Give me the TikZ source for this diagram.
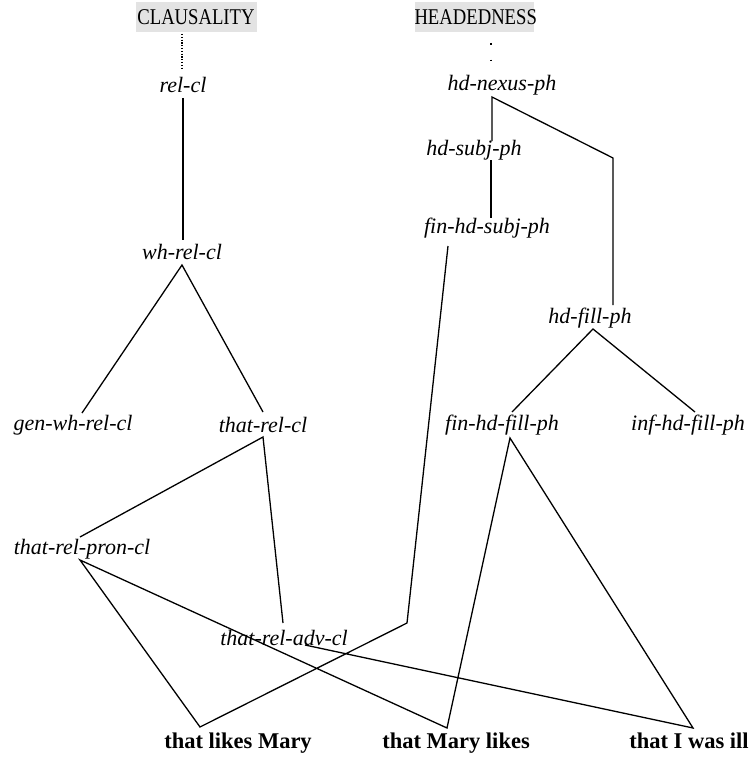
\documentclass[tikz,border=0pt]{standalone}
\usepackage{fontspec}
\setmainfont{Liberation Serif}
\newcommand{\dimlabel}[1]{\scalebox{0.83}[1]{\fontsize{22.5}{26}\selectfont #1}}
\begin{document}
\begin{tikzpicture}[x=1pt,y=-1pt,
  typ/.style={inner sep=0pt,font=\fontsize{22}{26}\selectfont\itshape},
  sent/.style={inner sep=0pt,anchor=base,font=\fontsize{22.5}{26}\selectfont\bfseries},
  dim/.style={inner sep=0pt,fill=gray!22,minimum height=30pt,text width=#1,align=center},
  edge/.style={line width=1.3pt,line join=miter},
  dotline/.style={line width=1.3pt,dash pattern=on 1.2pt off 1.6pt},
  sparse/.style={line width=1.6pt,dash pattern=on 1.6pt off 15pt}]
\useasboundingbox (0,0) rectangle (754,757);

% dimension headings
\node[dim=121pt] (clausality) at (196,17) {\dimlabel{CLAUSALITY}};
\node[dim=119pt] (headedness) at (474,17) {\dimlabel{HEADEDNESS}};

% type labels
\node[typ] (relcl)     at (183,85)  {rel-cl};
\node[typ] (hdnexus)   at (502,85)  {hd-nexus-ph};
\node[typ] (hdsubj)    at (474,150) {hd-subj-ph};
\node[typ] (finhdsubj) at (487,228) {fin-hd-subj-ph};
\node[typ] (whrelcl)   at (182,252) {wh-rel-cl};
\node[typ] (hdfill)    at (590,318) {hd-fill-ph};
\node[typ] (genwh)     at (73,425)  {gen-wh-rel-cl};
\node[typ] (thatrelcl) at (263,425) {that-rel-cl};
\node[typ] (finhdfill) at (502,425) {fin-hd-fill-ph};
\node[typ] (infhdfill) at (688,425) {inf-hd-fill-ph};
\node[typ] (pron)      at (82,549)  {that-rel-pron-cl};
\node[typ] (adv)       at (284,638) {that-rel-adv-cl};

% example clauses
\node[sent] (likesmary) at (238,748) {that likes Mary};
\node[sent] (marylikes) at (456,748) {that Mary likes};
\node[sent] (wasill)    at (689,748) {that I was ill};

% attachment points
\coordinate (clausality-b) at (182,34);
\coordinate (relcl-t)      at (182,70);
\coordinate (headedness-b) at (491,43);
\coordinate (hdnexus-t)    at (491,72);
\coordinate (relcl-b)      at (183,98);
\coordinate (whrelcl-t)    at (183,240);
\coordinate (whrelcl-b)    at (182,265);
\coordinate (genwh-t)      at (82,413);
\coordinate (thatrelcl-t)  at (263,412);
\coordinate (thatrelcl-b)  at (263,437);
\coordinate (pron-t)       at (80,537);
\coordinate (pron-b)       at (80,560);
\coordinate (adv-t)        at (283,623);
\coordinate (adv-r)        at (305,645);
\coordinate (hdnexus-b)    at (492,97);
\coordinate (hdsubj-t)     at (492,141);
\coordinate (hdsubj-b)     at (491,160);
\coordinate (finhdsubj-t)  at (491,218);
\coordinate (finhdsubj-b)  at (448,246);
\coordinate (subjbend)     at (407,623);
\coordinate (fillbend)     at (613,158);
\coordinate (hdfill-t)     at (613,305);
\coordinate (hdfill-b)     at (593,329);
\coordinate (finhdfill-t)  at (512,412);
\coordinate (infhdfill-t)  at (695,412);
\coordinate (finhdfill-b)  at (510,438);
\coordinate (likesmary-t)  at (200,727);
\coordinate (marylikes-t)  at (447,728);
\coordinate (wasill-t)     at (693,728);

% links to the dimensions
\draw[dotline] (clausality-b) -- (relcl-t);
\draw[sparse] (headedness-b) -- (hdnexus-t);

% CLAUSALITY hierarchy
\draw[edge] (relcl-b) -- (whrelcl-t);
\draw[edge] (genwh-t) -- (whrelcl-b) -- (thatrelcl-t);
\draw[edge] (pron-t) -- (thatrelcl-b) -- (adv-t);

% HEADEDNESS hierarchy
\draw[edge] (hdsubj-t) -- (hdnexus-b) -- (fillbend) -- (hdfill-t);
\draw[edge] (hdsubj-b) -- (finhdsubj-t);
\draw[edge] (finhdfill-t) -- (hdfill-b) -- (infhdfill-t);

% example clauses and their supertypes
\draw[edge] (finhdsubj-b) -- (subjbend) -- (likesmary-t) -- (pron-b) -- (marylikes-t) -- (finhdfill-b) -- (wasill-t) -- (adv-r);
\end{tikzpicture}
\end{document}
